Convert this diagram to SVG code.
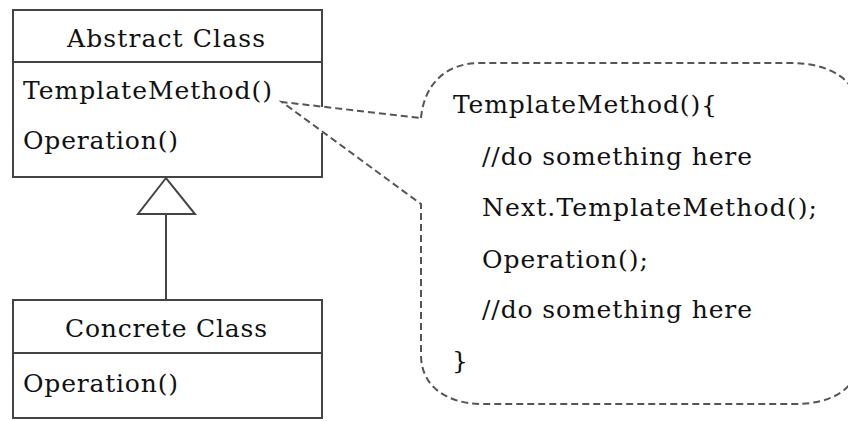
<svg xmlns="http://www.w3.org/2000/svg" width="848" height="421" viewBox="0 0 848 421">
<style>
.box{fill:none;stroke:#444;stroke-width:2}
.t{font-family:"DejaVu Serif","Liberation Serif",serif;font-size:25px;fill:#111}
.dash{fill:none;stroke:#555;stroke-width:2;stroke-dasharray:7 4}
</style>
<rect width="848" height="421" fill="#fff"/>
<g id="abstract-class">
<path class="box" d="M322,107 V10 H13 V177 H322 V133"/>
<line class="box" x1="13" y1="62" x2="322" y2="62"/>
<text class="t" x="67" y="47" textLength="198" lengthAdjust="spacing">Abstract Class</text>
<text class="t" x="23" y="99" textLength="249" lengthAdjust="spacing">TemplateMethod()</text>
<text class="t" x="23" y="149" textLength="155" lengthAdjust="spacing">Operation()</text>
</g>
<g id="concrete-class">
<rect class="box" x="13" y="300" width="309" height="118"/>
<line class="box" x1="13" y1="353" x2="322" y2="353"/>
<text class="t" x="65" y="337" textLength="202" lengthAdjust="spacing">Concrete Class</text>
<text class="t" x="23" y="392" textLength="155" lengthAdjust="spacing">Operation()</text>
</g>
<g id="connectors">
<line class="box" x1="166" y1="214" x2="166" y2="300"/>
<polygon class="box" points="166,178 138,214 195,214" style="fill:#fff"/>
</g>
<g id="note">
<path class="dash" d="M421,118 C424,85 445,63 480,63 H790 C830,63 858,80 858,110 V360 C858,390 830,404 795,404 H483 C445,404 421,385 421,355 V204 L282,102 L421,118"/>
<text class="t" x="453" y="113" textLength="264" lengthAdjust="spacing">TemplateMethod(){</text>
<text class="t" x="482" y="165" textLength="270" lengthAdjust="spacing">//do something here</text>
<text class="t" x="482" y="216" textLength="335" lengthAdjust="spacing">Next.TemplateMethod();</text>
<text class="t" x="482" y="268" textLength="166" lengthAdjust="spacing">Operation();</text>
<text class="t" x="482" y="318" textLength="270" lengthAdjust="spacing">//do something here</text>
<text class="t" x="452" y="369">}</text>
</g>
</svg>
